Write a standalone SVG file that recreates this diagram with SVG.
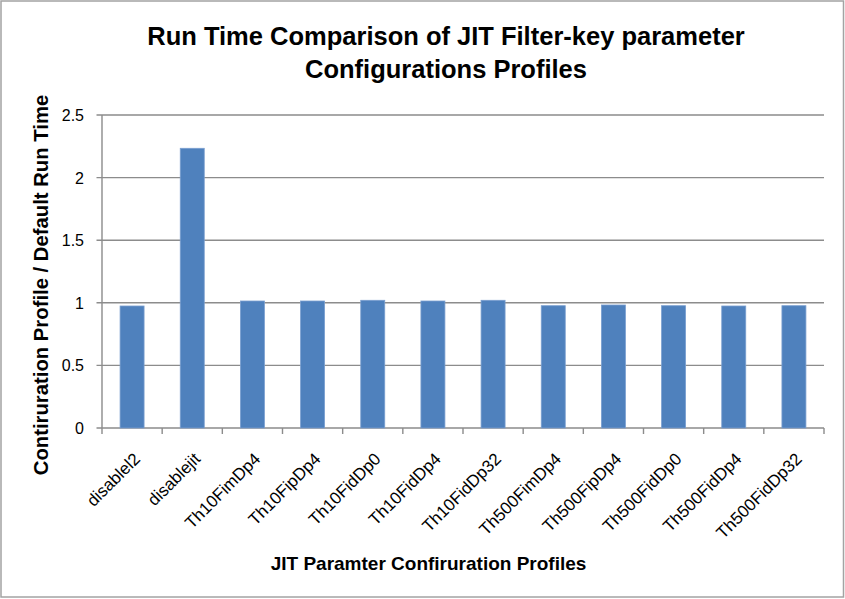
<svg xmlns="http://www.w3.org/2000/svg" width="845" height="599" viewBox="0 0 845 599">
  <style>
    .frame { fill: #ffffff; stroke: #a3a3a3; stroke-width: 1.5; }
    .grid { stroke: #8c8c8c; stroke-width: 1.4; fill: none; }
    .axis { stroke: #8c8c8c; stroke-width: 1.4; fill: none; }
    .bar { fill: #4f81bd; stroke: #7a9fd0; stroke-width: 0.8; }
    .title { font-family: "Liberation Sans", Arial, sans-serif; font-weight: bold; font-size: 25.5px; fill: #000; text-anchor: middle; }
    .axtitle { font-family: "Liberation Sans", Arial, sans-serif; font-weight: bold; fill: #000; text-anchor: middle; }
    .ytick { font-family: "Liberation Sans", Arial, sans-serif; font-size: 16px; fill: #000; text-anchor: end; }
    .xtick { font-family: "Liberation Sans", Arial, sans-serif; font-size: 17px; fill: #000; text-anchor: end; }
  </style>

  <!-- chart frame -->
  <rect class="frame" x="1" y="1" width="842.5" height="596"/>

  <!-- chart title -->
  <g id="title">
    <text class="title" x="446" y="45">Run Time Comparison of JIT Filter-key parameter</text>
    <text class="title" x="446" y="78">Configurations Profiles</text>
  </g>

  <!-- horizontal gridlines, value axis and category axis -->
  <g id="axes">
    <path class="grid" d="M102 115H824M102 177.6H824M102 240.2H824M102 302.8H824M102 365.4H824"/>
    <path class="axis" d="M102 115V428M96.5 115H102M96.5 177.6H102M96.5 240.2H102M96.5 302.8H102M96.5 365.4H102M96.5 428H824"/>
    <path class="axis" d="M102 428V434M162.17 428V434M222.33 428V434M282.5 428V434M342.67 428V434M402.83 428V434M463 428V434M523.17 428V434M583.33 428V434M643.5 428V434M703.67 428V434M763.83 428V434M824 428V434"/>
  </g>

  <!-- value axis labels -->
  <g id="y-labels">
    <text class="ytick" x="84" y="121">2.5</text>
    <text class="ytick" x="84" y="183.6">2</text>
    <text class="ytick" x="84" y="246.2">1.5</text>
    <text class="ytick" x="84" y="308.8">1</text>
    <text class="ytick" x="84" y="371.4">0.5</text>
    <text class="ytick" x="84" y="434">0</text>
  </g>

  <!-- bars: value = (428 - top) / 125.2 -->
  <g id="bars">
    <rect id="bar-disablel2" class="bar" x="120.08" y="306" width="24" height="122"/>
    <rect id="bar-disablejit" class="bar" x="180.25" y="148.3" width="24" height="279.7"/>
    <rect id="bar-Th10FimDp4" class="bar" x="240.42" y="301" width="24" height="127"/>
    <rect id="bar-Th10FipDp4" class="bar" x="300.58" y="301" width="24" height="127"/>
    <rect id="bar-Th10FidDp0" class="bar" x="360.75" y="300.3" width="24" height="127.7"/>
    <rect id="bar-Th10FidDp4" class="bar" x="420.92" y="301" width="24" height="127"/>
    <rect id="bar-Th10FidDp32" class="bar" x="481.08" y="300.3" width="24" height="127.7"/>
    <rect id="bar-Th500FimDp4" class="bar" x="541.25" y="305.7" width="24" height="122.3"/>
    <rect id="bar-Th500FipDp4" class="bar" x="601.42" y="305" width="24" height="123"/>
    <rect id="bar-Th500FidDp0" class="bar" x="661.58" y="305.7" width="24" height="122.3"/>
    <rect id="bar-Th500FidDp4" class="bar" x="721.75" y="306" width="24" height="122"/>
    <rect id="bar-Th500FidDp32" class="bar" x="781.92" y="305.7" width="24" height="122.3"/>
  </g>

  <!-- category labels, rotated 45 degrees -->
  <g id="x-labels">
    <text class="xtick" transform="translate(141.1 460) rotate(-45)">disablel2</text>
    <text class="xtick" transform="translate(201.3 460) rotate(-45)">disablejit</text>
    <text class="xtick" transform="translate(261.4 460) rotate(-45)">Th10FimDp4</text>
    <text class="xtick" transform="translate(321.6 460) rotate(-45)">Th10FipDp4</text>
    <text class="xtick" transform="translate(381.8 460) rotate(-45)">Th10FidDp0</text>
    <text class="xtick" transform="translate(441.9 460) rotate(-45)">Th10FidDp4</text>
    <text class="xtick" transform="translate(502.1 460) rotate(-45)">Th10FidDp32</text>
    <text class="xtick" transform="translate(562.3 460) rotate(-45)">Th500FimDp4</text>
    <text class="xtick" transform="translate(622.4 460) rotate(-45)">Th500FipDp4</text>
    <text class="xtick" transform="translate(682.6 460) rotate(-45)">Th500FidDp0</text>
    <text class="xtick" transform="translate(742.8 460) rotate(-45)">Th500FidDp4</text>
    <text class="xtick" transform="translate(802.9 460) rotate(-45)">Th500FidDp32</text>
  </g>

  <!-- axis titles -->
  <g id="axis-titles">
    <text class="axtitle" font-size="19" x="428.5" y="570">JIT Paramter Confiruration Profiles</text>
    <text class="axtitle" font-size="20.3" transform="translate(48 285) rotate(-90)">Contiruration Profile / Default Run Time</text>
  </g>
</svg>
